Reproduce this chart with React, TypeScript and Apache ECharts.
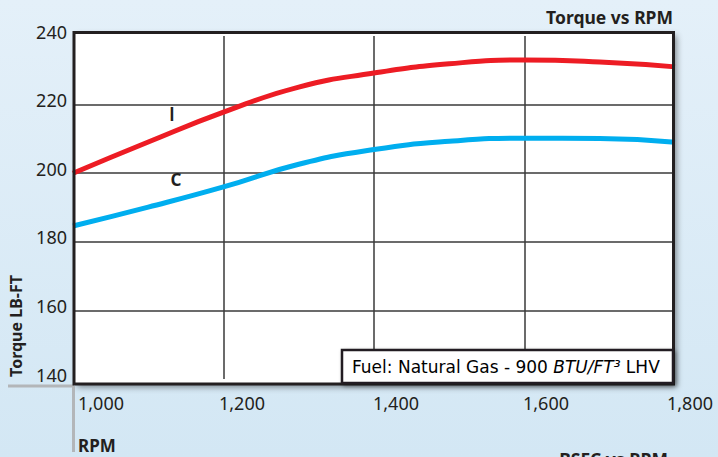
import React, { useEffect, useRef } from "react";
import * as echarts from "echarts";

const rpm = [1000, 1100, 1200, 1300, 1400, 1500, 1600, 1700, 1800];
const torqueI = [200, 209.1, 217.8, 225.1, 229.2, 231.9, 233.0, 232.4, 231.0];
const torqueC = [184.6, 190.1, 196.0, 202.6, 206.9, 209.3, 210.2, 210.1, 209.0];
const xTicks = [1000, 1200, 1400, 1600, 1800];
const yTicks = [140, 160, 180, 200, 220, 240];

const FONT = "'Noto Sans', sans-serif";
const INK = "#231f20";

const xPad: Record<number, number> = { 1000: 56, 1200: 37, 1400: 44, 1600: 43, 1800: 30 };

export default function App() {
  const ref = useRef<HTMLDivElement>(null);
  useEffect(() => {
    if (!ref.current) return;
    const chart = echarts.init(ref.current, undefined, { renderer: "svg" });
    const rich: Record<string, any> = {};
    xTicks.forEach((t) => {
      rich["p" + t] = {
        fontFamily: FONT,
        fontSize: 18,
        color: INK,
        padding: [0, 0, 0, xPad[t]],
      };
    });
    chart.setOption({
      animation: false,
      backgroundColor: {
        type: "linear",
        x: 0,
        y: 0,
        x2: 0,
        y2: 1,
        colorStops: [
          { offset: 0, color: "#e4f0f9" },
          { offset: 1, color: "#d3e7f4" },
        ],
      },
      grid: { left: 73, right: 43, top: 36, bottom: 78 },
      xAxis: {
        type: "value",
        min: xTicks[0],
        max: xTicks[xTicks.length - 1],
        interval: 200,
        z: 3,
        axisLine: { show: false },
        axisTick: { show: false },
        splitLine: {
          show: true,
          showMinLine: false,
          showMaxLine: false,
          lineStyle: { color: "#3a3a3a", width: 1.5 },
        },
        axisLabel: {
          margin: 15,
          align: "center",
          formatter: (v: number) => `{p${v}|${v.toLocaleString("en-US")}}`,
          rich,
        },
      },
      yAxis: {
        type: "value",
        min: yTicks[0],
        max: yTicks[yTicks.length - 1],
        interval: 20,
        z: 3,
        axisLine: { show: false },
        axisTick: { show: false },
        splitLine: {
          show: true,
          showMinLine: false,
          showMaxLine: false,
          lineStyle: { color: "#3a3a3a", width: 1.5 },
        },
        axisLabel: {
          margin: 6,
          fontFamily: FONT,
          fontSize: 18,
          color: INK,
          verticalAlign: "bottom",
          lineHeight: 9,
        },
      },
      series: [
        {
          name: "I",
          type: "line",
          z: 4,
          smooth: true,
          showSymbol: false,
          data: rpm.map((r, i) => [r, torqueI[i]]),
          lineStyle: { color: "#ed1c24", width: 5 },
          itemStyle: { color: "#ed1c24" },
        },
        {
          name: "C",
          type: "line",
          z: 4,
          smooth: true,
          showSymbol: false,
          data: rpm.map((r, i) => [r, torqueC[i]]),
          lineStyle: { color: "#00aeef", width: 5 },
          itemStyle: { color: "#00aeef" },
        },
      ],
      graphic: [
        {
          type: "rect",
          z: 1,
          shape: { x: 74, y: 32.5, width: 599.5, height: 351.5 },
          style: {
            fill: "#ffffff",
            shadowBlur: 6,
            shadowOffsetX: 3,
            shadowOffsetY: 3,
            shadowColor: "rgba(0,0,0,0.45)",
          },
        },
        {
          type: "rect",
          z: 10,
          shape: { x: 74, y: 32.5, width: 599.5, height: 351.5 },
          style: { fill: "none", stroke: INK, lineWidth: 3 },
        },
        {
          type: "line",
          z: 9,
          shape: { x1: 8, y1: 386, x2: 74, y2: 386 },
          style: { stroke: "#b3b6b9", lineWidth: 3 },
        },
        {
          type: "line",
          z: 9,
          shape: { x1: 73.5, y1: 386, x2: 73.5, y2: 452 },
          style: { stroke: "#b3b6b9", lineWidth: 3 },
        },
        {
          type: "rect",
          z: 11,
          shape: { x: 342, y: 350, width: 331, height: 33 },
          style: {
            fill: "#ffffff",
            stroke: INK,
            lineWidth: 2.5,
            shadowBlur: 4,
            shadowOffsetX: 2,
            shadowOffsetY: 2,
            shadowColor: "rgba(0,0,0,0.4)",
          },
        },
        {
          type: "text",
          z: 12,
          x: 352,
          y: 367,
          style: {
            text: "{n|Fuel: Natural Gas - 900 }{i|BTU/FT³}{n| LHV}",
            verticalAlign: "middle",
            rich: {
              n: { fontFamily: "'DejaVu Sans', sans-serif", fontSize: 17, color: INK },
              i: {
                fontFamily: "'DejaVu Sans', sans-serif",
                fontSize: 17,
                fontStyle: "italic",
                color: INK,
              },
            },
          },
        },
        {
          type: "text",
          z: 12,
          x: 673,
          y: 17,
          style: {
            text: "Torque vs RPM",
            fontFamily: FONT,
            fontWeight: "bold",
            fontSize: 17.5,
            fill: INK,
            align: "right",
            verticalAlign: "middle",
          },
        },
        {
          type: "text",
          z: 12,
          x: 15.5,
          y: 326,
          rotation: Math.PI / 2,
          style: {
            text: "Torque LB-FT",
            fontFamily: FONT,
            fontWeight: "bold",
            fontSize: 16,
            fill: INK,
            align: "center",
            verticalAlign: "middle",
          },
        },
        {
          type: "text",
          z: 12,
          x: 78,
          y: 445,
          style: {
            text: "RPM",
            fontFamily: FONT,
            fontWeight: "bold",
            fontSize: 17,
            fill: INK,
            align: "left",
            verticalAlign: "middle",
          },
        },
        {
          type: "text",
          z: 12,
          x: 172,
          y: 114,
          style: {
            text: "I",
            fontFamily: "Lato, sans-serif",
            fontWeight: "bold",
            fontSize: 18,
            fill: INK,
            align: "center",
            verticalAlign: "middle",
          },
        },
        {
          type: "text",
          z: 12,
          x: 176,
          y: 179,
          style: {
            text: "C",
            fontFamily: FONT,
            fontWeight: "bold",
            fontSize: 17,
            fill: INK,
            align: "center",
            verticalAlign: "middle",
          },
        },
        {
          type: "text",
          z: 12,
          x: 668,
          y: 450,
          style: {
            text: "BSFC vs RPM",
            fontFamily: FONT,
            fontWeight: "bold",
            fontSize: 17.5,
            fill: INK,
            align: "right",
            verticalAlign: "top",
          },
        },
      ],
    });
    return () => chart.dispose();
  }, []);
  return (
    <div
      ref={ref}
      style={{ position: "absolute", left: 0, top: 0, width: 718, height: 457 }}
    />
  );
}
